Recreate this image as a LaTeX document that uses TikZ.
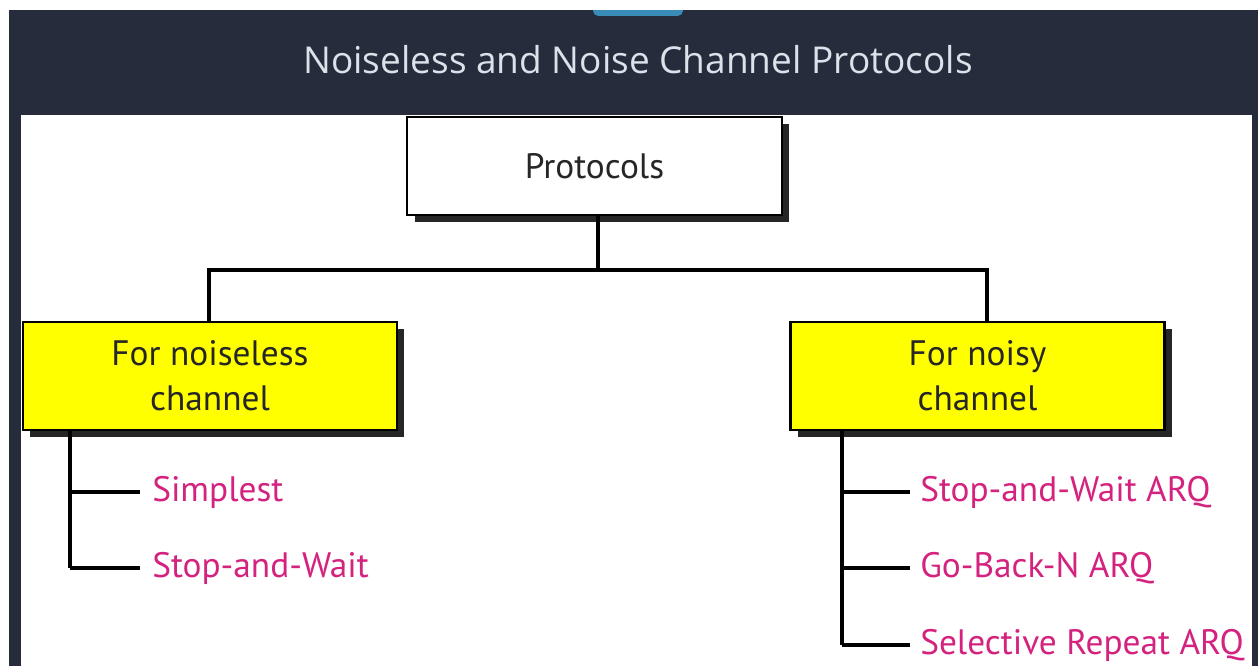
\documentclass[tikz,border=0pt]{standalone}
\usepackage{fontspec}
\setmainfont{PT Sans}
\newfontfamily\titlefont{Open Sans}
\usetikzlibrary{calc,shadows}
\definecolor{cNavy}{HTML}{262C3B}
\definecolor{cTab}{HTML}{3A8CB8}
\definecolor{cTitle}{HTML}{DCE2EA}
\definecolor{cYel}{HTML}{FFFF00}
\definecolor{cPink}{HTML}{D4237F}
\tikzset{
  box/.style={draw=black,line width=1.8pt,fill=white,align=center,
    text=black!85,font=\fontsize{26.5}{33.75}\selectfont,
    general shadow={fill=black!85,shadow xshift=5.5pt,shadow yshift=-5.5pt}},
  ybox/.style={box,fill=cYel,minimum width=280.5pt,minimum height=81pt},
  leaf/.style={anchor=west,inner sep=0pt,text=cPink,
    font=\fontsize{26.5}{30}\selectfont},
  wire/.style={line width=2.6pt,black},
}
\begin{document}
\begin{tikzpicture}[x=0.75pt,y=-0.75pt]
  \useasboundingbox (0,0) rectangle (1258,666);
  % slide frame
  \fill[cNavy] (9,10) rectangle (1258,666);
  \fill[white] (21,115) rectangle (1252,666);
  \fill[cTab,rounded corners=4pt] (593,4) rectangle (683,16);
  \fill[white] (0,0) rectangle (1258,10);
  \node[text=cTitle,font=\titlefont\fontsize{27.75}{30}\selectfont] (title) at (638,60)
    {Noiseless and Noise Channel Protocols};
  % tree
  \coordinate (bus) at (598,270);
  \coordinate (busL) at (209,270);
  \coordinate (busR) at (987,270);
  \node[box,minimum width=281pt,minimum height=73.5pt] (prot) at (594.5,166) {Protocols};
  \node[ybox] (nsl) at (210,376) {For noiseless\\channel};
  \node[ybox] (nsy) at (977.5,376) {For noisy\\channel};
  \draw[wire] (prot.south -| bus) -- (bus);
  \draw[wire] (busL |- nsl.north) -- (busL) -- (busR) -- (busR |- nsy.north);
  % noiseless protocols
  \coordinate (trunkL) at (70,568);
  \node[leaf] (simp) at (152,492) {Simplest};
  \node[leaf] (swl) at (152,568) {Stop-and-Wait};
  \draw[wire] (trunkL |- nsl.south) -- (trunkL);
  \foreach \n in {simp,swl}
    \draw[wire] (trunkL |- \n.west) -- ($(\n.west)+(-12,0)$);
  % noisy protocols
  \coordinate (trunkR) at (842,645);
  \node[leaf] (swarq) at (920,492) {Stop-and-Wait ARQ};
  \node[leaf] (gbn) at (920,568) {Go-Back-N ARQ};
  \node[leaf] (sr) at (920,645) {Selective Repeat ARQ};
  \draw[wire] (trunkR |- nsy.south) -- (trunkR);
  \foreach \n in {swarq,gbn,sr}
    \draw[wire] (trunkR |- \n.west) -- ($(\n.west)+(-10,0)$);
\end{tikzpicture}
\end{document}
